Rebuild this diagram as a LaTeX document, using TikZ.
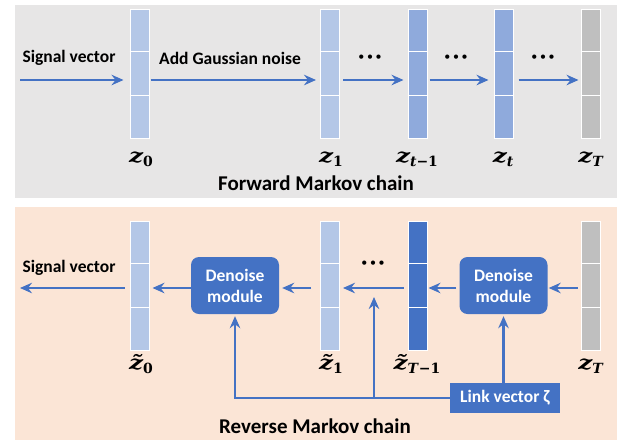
\documentclass[tikz,border=0pt]{standalone}
\usepackage{fontspec}
\setmainfont{Carlito}
\newfontfamily\lblfont{DejaVu Serif}
\usepackage{tikz}
\usetikzlibrary{arrows.meta,calc}
\definecolor{panelA}{HTML}{E7E6E6}
\definecolor{panelB}{HTML}{FBE5D6}
\definecolor{lineblue}{HTML}{4472C4}
\definecolor{cellA}{HTML}{B4C7E7}
\definecolor{cellB}{HTML}{8FAADC}
\definecolor{cellC}{HTML}{BFBFBF}
% vector label: letter, subscript
\newcommand{\zlab}[2]{{\itshape\scalebox{1.3}[1]{#1}}\raisebox{-4.5pt}{\fontsize{14}{14}\selectfont #2}}
\newcommand{\bigdots}{•\hspace{2.6pt}•\hspace{2.6pt}•}
\tikzset{
  vec/.style={draw=white,line width=1pt,minimum width=19pt,minimum height=129pt,inner sep=0pt},
  arr/.style={-{Stealth[length=12pt,width=10.5pt,inset=4pt]},lineblue,line width=2.4pt},
  txt/.style={font=\fontsize{17.5}{20}\selectfont\bfseries},
  ttl/.style={font=\fontsize{21}{24}\selectfont\bfseries},
  mlab/.style={font=\lblfont\bfseries\fontsize{19}{22}\selectfont,anchor=base,inner sep=0pt},
  dots/.style={font=\fontsize{12}{14}\selectfont},
  module/.style={fill=lineblue,rounded corners=8pt,minimum width=88pt,minimum height=57pt,
    text=white,align=center,font=\fontsize{17.5}{21}\selectfont\bfseries,inner sep=0pt}
}
\begin{document}
\begin{tikzpicture}[x=1pt,y=-1pt]
\useasboundingbox (0,0) rectangle (622,440);
% panels
\fill[panelA](15,5) rectangle (617,198);
\fill[panelB](15,207) rectangle (617,440);

% forward chain
\node[vec,fill=cellA] (z0) at (139.5,73.5) {};
\node[vec,fill=cellA] (z1) at (330,73.5) {};
\node[vec,fill=cellB] (ztm) at (417.5,73.5) {};
\node[vec,fill=cellB] (zt) at (503.5,73.5) {};
\node[vec,fill=cellC] (zT) at (590.5,73.5) {};
\node[mlab] (lz0) at (141,162) {\zlab{z}{0}};
\node[mlab] (lz1) at (331,162) {\zlab{z}{1}};
\node[mlab] (lztm) at (417,162) {\zlab{z}{\textit{t}−1}};
\node[mlab] (lzt) at (503,162) {\zlab{z}{\textit{t}}};
\node[mlab] (lzT) at (591,162) {\zlab{z}{\textit{T}}};
\coordinate (sigA) at (20,80);
\draw[arr,shorten >=6pt](sigA)--(sigA -| z0.west);
\draw[arr,shorten <=1pt,shorten >=4pt](sigA -| z0.east)--(sigA -| z1.west);
\draw[arr,shorten <=3pt,shorten >=4pt](sigA -| z1.east)--(sigA -| ztm.west);
\draw[arr,shorten <=2pt,shorten >=5pt](sigA -| ztm.east)--(sigA -| zt.west);
\draw[arr,shorten <=5pt,shorten >=2pt](sigA -| zt.east)--(sigA -| zT.west);
\node[txt] (sigtxtA) at (69,58) {Signal vector};
\node[txt] (noise) at (230,58) {Add Gaussian noise};
\node[dots] (dA) at (370,58) {\bigdots};
\node[dots] (dB) at (456,58) {\bigdots};
\node[dots] (dC) at (543,58) {\bigdots};
\node[ttl] (fwd) at (316,183) {Forward Markov chain};

% reverse chain
\node[vec,fill=cellA] (r0) at (139.5,285.5) {};
\node[vec,fill=cellA] (r1) at (330,285.5) {};
\node[vec,fill=lineblue] (rTm) at (417.5,285.5) {};
\node[vec,fill=cellC] (rT) at (590.5,285.5) {};
\node[mlab] (lr0) at (141,369) {\zlab{z̃}{0}};
\node[mlab] (lr1) at (331,369) {\zlab{z̃}{1}};
\node[mlab] (lrTm) at (417,369) {\zlab{z̃}{\textit{T}−1}};
\node[mlab] (lrT) at (591,369) {\zlab{z}{\textit{T}}};

% cell dividers
\foreach \v in {z0,z1,ztm,zt,zT,r0,r1,rTm,rT}
  \foreach \f in {1,2}
    \draw[white,line width=1.2pt]($(\v.north west)!\f/3!(\v.south west)$)--($(\v.north east)!\f/3!(\v.south east)$);

\node[module] (dm1) at (235,285.5) {Denoise\\module};
\node[module] (dm2) at (503.5,285.5) {Denoise\\module};
\node[fill=lineblue,text=white,minimum width=110pt,minimum height=30pt,inner sep=0pt,
  font=\fontsize{17.5}{20}\selectfont\bfseries] (link) at (505,398) {Link vector ζ};
\coordinate (sigB) at (20,288);
\draw[arr,shorten <=5pt](sigB -| r0.west)--(sigB);
\draw[arr,shorten <=0pt,shorten >=3pt](sigB -| dm1.west)--(sigB -| r0.east);
\draw[arr,shorten <=9pt,shorten >=3pt](sigB -| r1.west)--(sigB -| dm1.east);
\draw[arr,shorten <=4pt,shorten >=3pt](sigB -| rTm.west)--(sigB -| r1.east);
\draw[arr,shorten <=3pt,shorten >=1pt](sigB -| dm2.west)--(sigB -| rTm.east);
\draw[arr,shorten <=3pt,shorten >=1pt](sigB -| rT.west)--(sigB -| dm2.east);
\coordinate (branch) at (374,398);
\draw[arr,shorten >=2pt](link.west)-|(dm1.south);
\draw[arr](branch)--(374,297);
\draw[arr,shorten >=2pt](link.north -| dm2.south)--(dm2.south);
\node[txt] (sigtxtB) at (69,268) {Signal vector};
\node[dots] (dD) at (373,264) {\bigdots};
\node[ttl] (rev) at (315,426) {Reverse Markov chain};
\end{tikzpicture}
\end{document}
